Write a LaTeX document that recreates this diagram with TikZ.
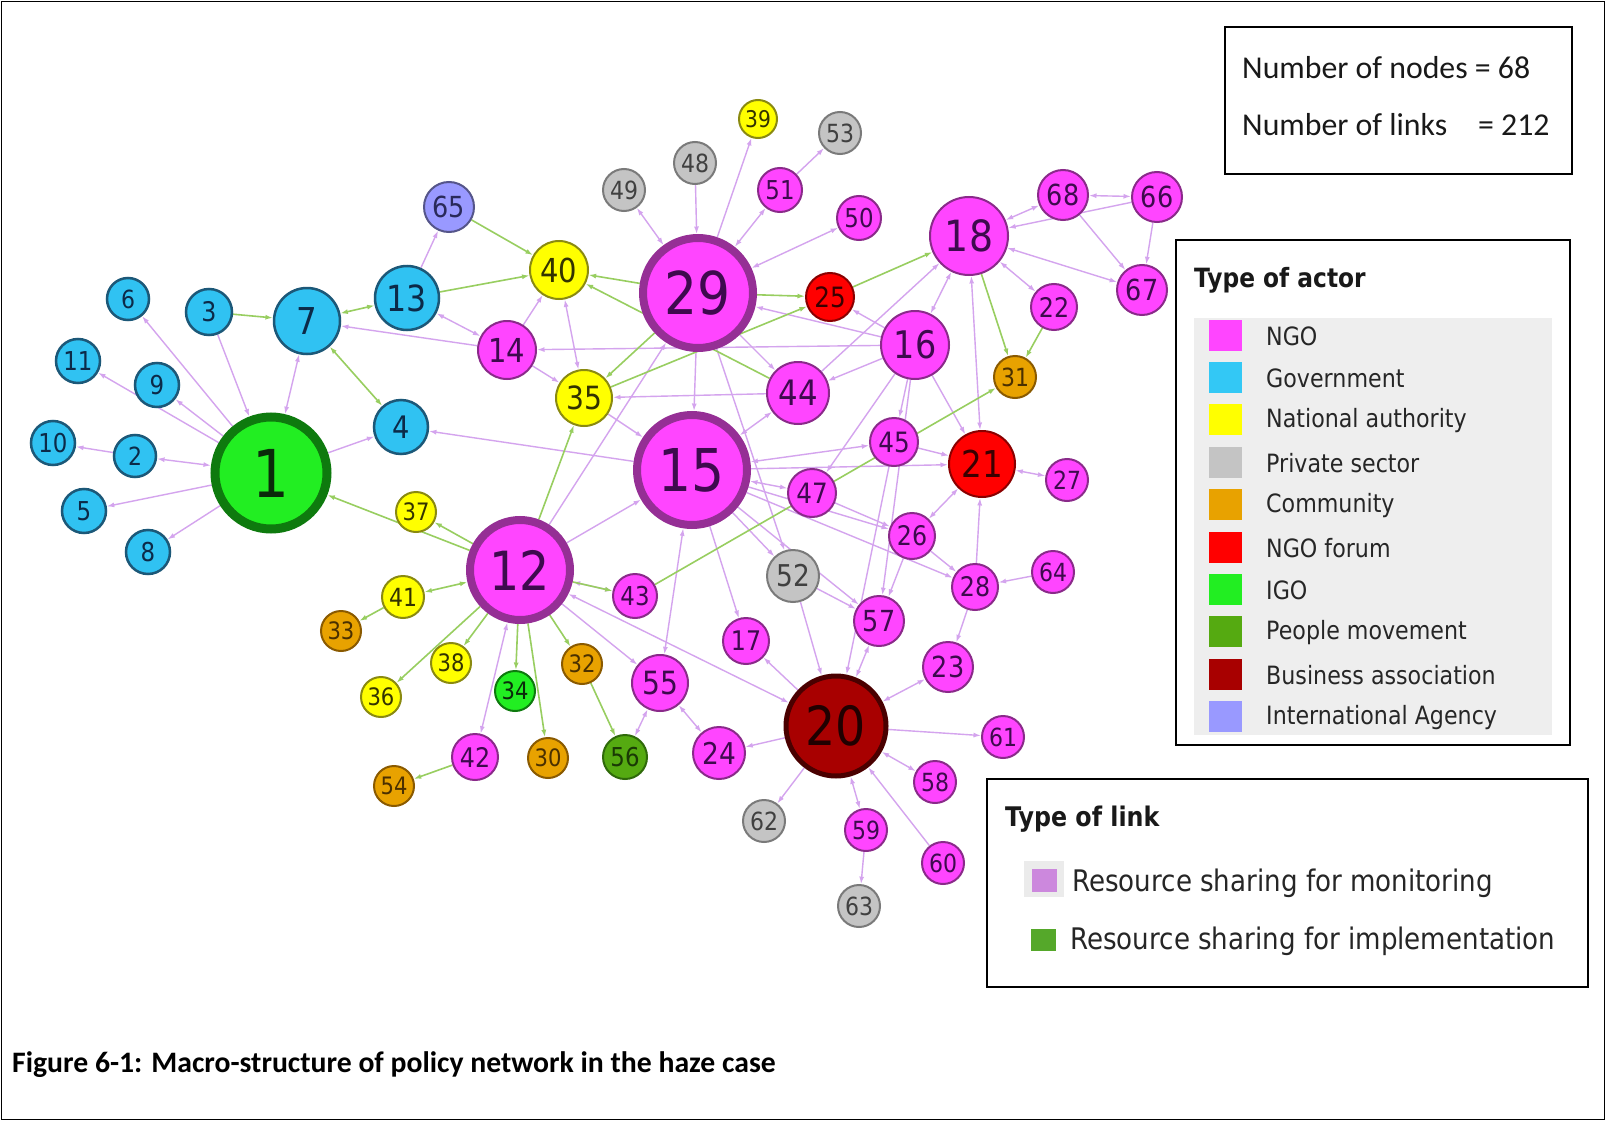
\documentclass[tikz,border=0pt]{standalone}
\usepackage{fontspec}
\usetikzlibrary{arrows.meta}
\newfontfamily\tah[FakeStretch=0.88]{DejaVu Sans}
\newfontfamily\calfont{Carlito}
\definecolor{ngoF}{HTML}{FF45FF}\definecolor{ngoD}{HTML}{8A2A8A}\definecolor{ngoB}{HTML}{952F95}\definecolor{ngoT}{HTML}{3E0A4E}
\definecolor{govF}{HTML}{30C2F2}\definecolor{govD}{HTML}{1C5878}\definecolor{govT}{HTML}{0C2A48}
\definecolor{natF}{HTML}{FFFF00}\definecolor{natD}{HTML}{8A8A10}\definecolor{natT}{HTML}{333300}
\definecolor{priF}{HTML}{C4C4C4}\definecolor{priD}{HTML}{7A7A7A}\definecolor{priT}{HTML}{404040}
\definecolor{comF}{HTML}{E8A200}\definecolor{comD}{HTML}{8A5A00}\definecolor{comT}{HTML}{4A3000}
\definecolor{forF}{HTML}{FF0000}\definecolor{forD}{HTML}{8A0000}\definecolor{forT}{HTML}{3A0000}
\definecolor{igoF}{HTML}{22EE22}\definecolor{igoD}{HTML}{0E7A0E}\definecolor{igoT}{HTML}{0A2A0A}
\definecolor{pmvF}{HTML}{55AA11}\definecolor{pmvD}{HTML}{2F6A0A}\definecolor{pmvT}{HTML}{1A3A05}
\definecolor{busF}{HTML}{A80000}\definecolor{busD}{HTML}{4A0000}\definecolor{busT}{HTML}{200000}
\definecolor{iagF}{HTML}{9999FF}\definecolor{iagD}{HTML}{55558A}\definecolor{iagT}{HTML}{2A2A5A}
\definecolor{monC}{HTML}{D4A4EE}\definecolor{impC}{HTML}{98CE60}
\definecolor{legGov}{HTML}{33C8F5}\definecolor{legMon}{HTML}{CC88DD}\definecolor{legImp}{HTML}{55A82A}
\definecolor{panel}{HTML}{EEEEEE}
\pgfdeclarelayer{bg}
\pgfsetlayers{bg,main}
\tikzset{
  actor/.style={circle, inner sep=0pt, font=\tah},
  ngo/.style={actor, fill=ngoF, draw=ngoD, line width=2pt, text=ngoT},
  ngobig/.style={actor, fill=ngoF, draw=ngoB, line width=8pt, text=ngoT},
  gov/.style={actor, fill=govF, draw=govD, line width=2.5pt, text=govT},
  nat/.style={actor, fill=natF, draw=natD, line width=2pt, text=natT},
  pri/.style={actor, fill=priF, draw=priD, line width=2pt, text=priT},
  com/.style={actor, fill=comF, draw=comD, line width=2pt, text=comT},
  forum/.style={actor, fill=forF, draw=forD, line width=2pt, text=forT},
  igo/.style={actor, fill=igoF, draw=igoD, line width=2pt, text=igoT},
  igobig/.style={actor, fill=igoF, draw=igoD, line width=9pt, text=igoT},
  pmv/.style={actor, fill=pmvF, draw=pmvD, line width=2pt, text=pmvT},
  bus/.style={actor, fill=busF, draw=busD, line width=5pt, text=busT},
  iag/.style={actor, fill=iagF, draw=iagD, line width=2pt, text=iagT},
  mon/.style={draw=monC, line width=1.4pt},
  imp/.style={draw=impC, line width=1.6pt},
  ma/.style={mon, ->}, mb/.style={mon, <->},
  ga/.style={imp, ->}, gb/.style={imp, <->},
  frame/.style={draw=black, line width=1.6pt},
  legtxt/.style={anchor=west, inner sep=0pt, text=black!85, font=\tah\fontsize{25.2}{25.2}\selectfont},
  legttl/.style={anchor=west, inner sep=0pt, text=black!90, font=\tah\bfseries\fontsize{26.5}{26.5}\selectfont},
  linktxt/.style={anchor=west, inner sep=0pt, text=black!85, font=\tah\fontsize{29.7}{29.7}\selectfont},
  infotxt/.style={anchor=west, inner sep=0pt, text=black!90, font=\calfont\fontsize{31.8}{31.8}\selectfont},
}
\newcommand\nd[5]{\pgfmathsetmacro\ndfs{#4+4}%
  \node[#5, minimum size={2*#4pt}] (n#1) at (#2,#3) {\fontsize{\ndfs pt}{\ndfs pt}\selectfont #1};}
\newcommand\ed[3]{\draw[#1] (n#2) -- (n#3);}
\begin{document}
\begin{tikzpicture}[x=1pt,y=-1pt,>={Latex[length=7.5pt,width=5pt]}]
\useasboundingbox (0,0) rectangle (1606,1121);
% nodes
\node[igobig, minimum size=112pt] (n1) at (271,473) {\fontsize{66pt}{66pt}\selectfont 1};
\nd{2}{135}{456}{21}{gov}
\nd{3}{209}{312}{23}{gov}
\nd{4}{401}{427}{27}{gov}
\nd{5}{84}{511}{22}{gov}
\nd{6}{128}{299}{21}{gov}
\nd{7}{307}{321}{33}{gov}
\nd{8}{148}{552}{22}{gov}
\nd{9}{157}{385}{22}{gov}
\nd{10}{53}{443}{22}{gov}
\nd{11}{78}{361}{22}{gov}
\nd{12}{520}{570}{50}{ngobig}
\nd{13}{407}{298}{32}{gov}
\nd{14}{507}{350}{29}{ngo}
\nd{15}{692}{470}{55}{ngobig}
\nd{16}{915}{345}{34}{ngo}
\nd{17}{746}{641}{23}{ngo}
\nd{18}{969}{236}{39}{ngo}
\nd{20}{836}{726}{50}{bus}
\nd{21}{982}{464}{33}{forum}
\nd{22}{1054}{307}{23}{ngo}
\nd{23}{948}{667}{25}{ngo}
\nd{24}{719}{753}{26}{ngo}
\nd{25}{830}{297}{24}{forum}
\nd{26}{912}{536}{23}{ngo}
\nd{27}{1067}{480}{21}{ngo}
\nd{28}{975}{587}{23}{ngo}
\nd{29}{698}{293}{55}{ngobig}
\nd{30}{548}{758}{20}{com}
\nd{31}{1015}{377}{21}{com}
\nd{32}{582}{664}{20}{com}
\nd{33}{341}{631}{20}{com}
\nd{34}{515}{691}{20}{igo}
\nd{35}{584}{398}{28}{nat}
\nd{36}{381}{697}{20}{nat}
\nd{37}{416}{512}{20}{nat}
\nd{38}{451}{663}{20}{nat}
\nd{39}{758}{119}{19}{nat}
\nd{40}{559}{270}{29}{nat}
\nd{41}{403}{597}{21}{nat}
\nd{42}{475}{757}{23}{ngo}
\nd{43}{635}{596}{22}{ngo}
\nd{44}{798}{393}{31}{ngo}
\nd{45}{894}{442}{24}{ngo}
\nd{47}{812}{493}{24}{ngo}
\nd{48}{695}{163}{21}{pri}
\nd{49}{624}{190}{21}{pri}
\nd{50}{859}{218}{22}{ngo}
\nd{51}{780}{190}{22}{ngo}
\nd{52}{793}{576}{26}{pri}
\nd{53}{840}{133}{21}{pri}
\nd{54}{394}{786}{20}{com}
\nd{55}{660}{683}{28}{ngo}
\nd{56}{625}{757}{22}{pmv}
\nd{57}{879}{621}{25}{ngo}
\nd{58}{935}{782}{21}{ngo}
\nd{59}{866}{830}{21}{ngo}
\nd{60}{943}{863}{21}{ngo}
\nd{61}{1003}{737}{21}{ngo}
\nd{62}{764}{821}{21}{pri}
\nd{63}{859}{906}{21}{pri}
\nd{64}{1053}{572}{21}{ngo}
\nd{65}{449}{207}{25}{iag}
\nd{66}{1157}{197}{25}{ngo}
\nd{67}{1142}{290}{25}{ngo}
\nd{68}{1063}{195}{25}{ngo}
% links
\begin{pgfonlayer}{bg}
\fill[white] (0,0) rectangle (1606,1121);
\foreach \a/\b in {1/6,1/11,1/9,3/1,2/10,1/5,1/8,1/4,14/7,13/65,14/40,16/14,14/35,35/15,
  48/29,29/39,51/53,16/29,16/25,29/44,29/15,44/18,66/18,68/67,66/67,16/45,16/21,16/47,
  16/44,16/57,44/35,15/21,15/26,15/28,15/52,15/57,15/17,12/15,15/4,12/29,29/52,12/55,
  20/17,52/20,45/20,20/61,60/20,59/63,20/62,20/24,28/23,28/21,64/28,45/21,47/26,26/57,
  52/57,26/28}{\ed{ma}{\a}{\b}}
\foreach \a/\b in {1/7,1/2,13/14,40/35,29/49,29/51,29/50,18/68,68/66,18/67,18/22,21/18,
  16/18,44/15,15/45,15/47,15/55,12/43,12/20,12/42,55/56,55/24,57/20,20/23,20/58,20/59,
  26/21,27/21}{\ed{mb}{\a}{\b}}
\foreach \a/\b in {3/7,12/1,12/37,65/40,13/40,29/40,44/40,29/35,12/35,29/25,35/25,25/18,
  22/31,18/31,43/31,12/43,41/33,12/36,12/38,12/34,12/30,12/32,32/56,42/54}{\ed{ga}{\a}{\b}}
\foreach \a/\b in {7/4,13/7,12/41}{\ed{gb}{\a}{\b}}
\end{pgfonlayer}
\draw[frame] (1.5,1.5) rectangle (1604.5,1119.5);
% info box
\draw[frame] (1225,27) rectangle (1572,174);
\node[infotxt] (info1) at (1242,68) {Number of nodes = 68};
\node[infotxt] (info2) at (1242,125) {Number of links\hspace{31pt}= 212};
% actor legend
\draw[frame] (1176,240) rectangle (1570,745);
\node[legttl] (actttl) at (1194,280) {Type of actor};
\fill[panel] (1194,318) rectangle (1552,735);
\foreach \c/\t [count=\i from 0] in {ngoF/NGO,legGov/Government,natF/National authority,
  priF/Private sector,comF/Community,forF/NGO forum,igoF/IGO,pmvF/People movement,
  busF/Business association,iagF/International Agency}{
  \node[fill=\c, minimum width=33pt, minimum height=31pt, inner sep=0pt] (sq\i) at (1225,{335+42.4*\i}) {};
  \node[legtxt] (lt\i) at (1266,{336+42.4*\i}) {\t};
}
% link legend
\draw[frame] (987,779) rectangle (1588,987);
\node[legttl, font=\tah\bfseries\fontsize{27}{27}\selectfont] (lnkttl) at (1005,819) {Type of link};
\fill[black!8] (1024,861) rectangle (1064,897);
\node[fill=legMon, minimum width=25pt, minimum height=23pt, inner sep=0pt] (lsq1) at (1044,880) {};
\node[linktxt] (lk1) at (1072,883) {Resource sharing for monitoring};
\node[fill=legImp, minimum width=25pt, minimum height=22pt, inner sep=0pt] (lsq2) at (1043,940) {};
\node[linktxt] (lk2) at (1070,941) {Resource sharing for implementation};
% caption
\node[anchor=west, inner sep=0pt, font=\calfont\bfseries\fontsize{29.7}{29.7}\selectfont] (cap) at (12,1065)
  {Figure 6-1: Macro-structure of policy network in the haze case};
\end{tikzpicture}
\end{document}
